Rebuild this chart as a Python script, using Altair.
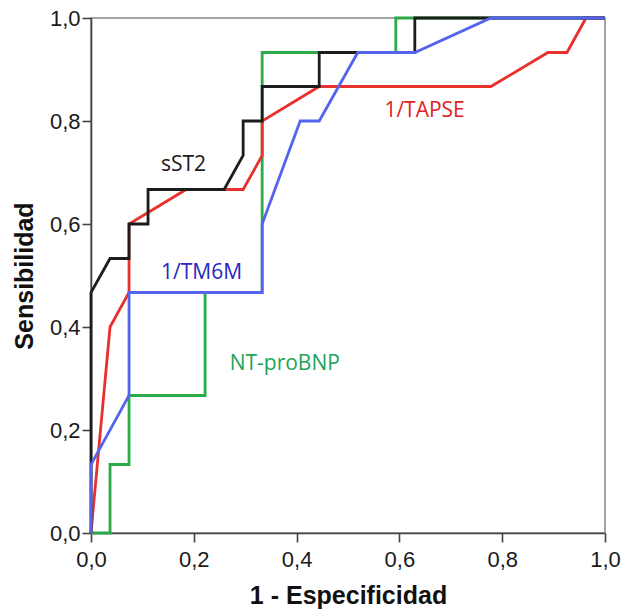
import altair as alt
import pandas as pd

# ROC curve points
sst2_x = [0, 0, 0.037, 0.074, 0.074, 0.111, 0.111, 0.259, 0.296, 0.296, 0.333, 0.333, 0.444, 0.444, 0.630, 0.630, 1.0]
sst2_y = [0, 0.467, 0.533, 0.533, 0.600, 0.600, 0.667, 0.667, 0.733, 0.800, 0.800, 0.867, 0.867, 0.933, 0.933, 1.0, 1.0]

tapse_x = [0, 0.037, 0.074, 0.074, 0.185, 0.259, 0.296, 0.333, 0.333, 0.444, 0.778, 0.889, 0.926, 0.963, 1.0]
tapse_y = [0, 0.400, 0.467, 0.600, 0.667, 0.667, 0.667, 0.733, 0.800, 0.867, 0.867, 0.933, 0.933, 1.0, 1.0]

tm6m_x = [0, 0, 0.074, 0.074, 0.333, 0.333, 0.407, 0.444, 0.519, 0.630, 0.778, 1.0]
tm6m_y = [0, 0.133, 0.267, 0.467, 0.467, 0.600, 0.800, 0.800, 0.933, 0.933, 1.0, 1.0]

ntbnp_x = [0, 0.037, 0.037, 0.074, 0.074, 0.222, 0.222, 0.333, 0.333, 0.593, 0.593, 1.0]
ntbnp_y = [0, 0, 0.133, 0.133, 0.267, 0.267, 0.467, 0.467, 0.933, 0.933, 1.0, 1.0]

series_names = ["NT-proBNP", "1/TAPSE", "sST2", "1/TM6M"]
line_colors = ["#2aaa48", "#e8302c", "#1c1c1c", "#5564ee"]

label_text = ["sST2", "1/TM6M", "NT-proBNP", "1/TAPSE"]
label_x = [0.180, 0.215, 0.377, 0.649]
label_y = [0.715, 0.505, 0.328, 0.819]
label_col = ["#1a1a1a", "#2828c0", "#22a358", "#e0201e"]

tick_values = [0, 0.2, 0.4, 0.6, 0.8, 1.0]

curves = {
    "NT-proBNP": (ntbnp_x, ntbnp_y),
    "1/TAPSE": (tapse_x, tapse_y),
    "sST2": (sst2_x, sst2_y),
    "1/TM6M": (tm6m_x, tm6m_y),
}

xscale = alt.Scale(domain=[0, 1], nice=False)
yscale = alt.Scale(domain=[0, 1], nice=False)
fmt = "replace(format(datum.value, '.1f'), '.', ',')"

layers = []
for name, col in zip(series_names, line_colors):
    xs, ys = curves[name]
    df = pd.DataFrame({"fpr": xs, "tpr": ys, "i": list(range(len(xs)))})
    layers.append(
        alt.Chart(df).mark_line(color=col, strokeWidth=2.8, clip=False).encode(
            x=alt.X("fpr:Q", scale=xscale,
                    axis=alt.Axis(title="1 - Especificidad", values=tick_values,
                                  labelExpr=fmt, grid=False, labelFlush=False)),
            y=alt.Y("tpr:Q", scale=yscale,
                    axis=alt.Axis(title="Sensibilidad", values=tick_values,
                                  labelExpr=fmt, grid=False, labelFlush=False)),
            order="i:Q",
        )
    )

labels_df = pd.DataFrame({"t": label_text, "x": label_x, "y": label_y, "c": label_col})
labels = alt.Chart(labels_df).mark_text(font="Open Sans", fontSize=21, align="center", baseline="middle").encode(
    x=alt.X("x:Q", scale=xscale),
    y=alt.Y("y:Q", scale=yscale),
    text="t:N",
    color=alt.Color("c:N", scale=None),
)

chart = alt.layer(*layers, labels).properties(
    width=514, height=515,
    autosize=alt.AutoSizeParams(type="none"),
    padding={"left": 91, "top": 18, "right": 19, "bottom": 78},
    background="white",
).configure_view(
    stroke="#888888", strokeWidth=1.5
).configure_axis(
    domainColor="#444444", domainWidth=1.6,
    tickColor="#444444", tickWidth=1.6, tickSize=9,
    labelFont="Liberation Sans", labelFontSize=22, labelColor="#1a1a1a",
    titleFont="Liberation Sans", titleFontSize=25, titleFontWeight="bold", titleColor="#111111",
).configure_axisX(
    labelPadding=7, titlePadding=13,
).configure_axisY(
    labelPadding=2, titlePadding=12,
)

chart.save("out.html", embed_options={"renderer": "svg", "actions": False})
